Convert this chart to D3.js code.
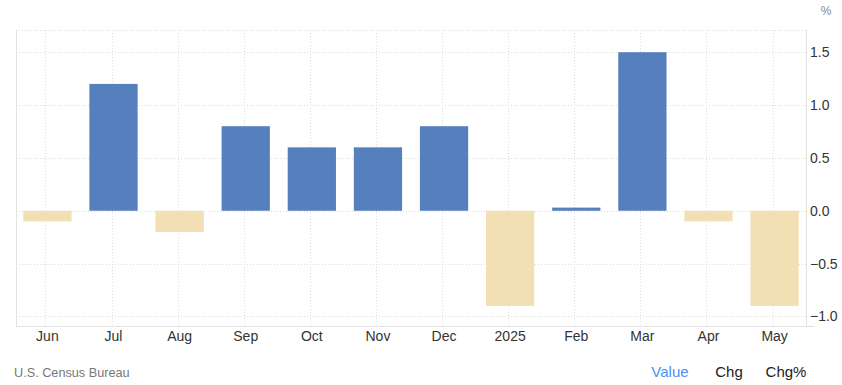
<!DOCTYPE html>
<html>
<head>
<meta charset="utf-8">
<script src="https://cdn.jsdelivr.net/npm/d3@7"></script>
<style>
  body { margin: 0; background: #fff; }
  svg text { font-family: Arial, "Liberation Sans", sans-serif; }
</style>
</head>
<body>
<div id="chart"></div>
<script>
// monthly % change
const months = ["Jun", "Jul", "Aug", "Sep", "Oct", "Nov", "Dec", "2025", "Feb", "Mar", "Apr", "May"];
const values = [-0.1, 1.2, -0.2, 0.8, 0.6, 0.6, 0.8, -0.9, 0.03, 1.5, -0.1, -0.9];
const yTicks = [-1.0, -0.5, 0.0, 0.5, 1.0, 1.5];
const tabs = ["Value", "Chg", "Chg%"];

const width = 842, height = 385;
const plotLeft = 16, plotRight = 806, plotTop = 30, plotBottom = 326;

const svg = d3.select("#chart").append("svg")
  .attr("width", width)
  .attr("height", height);

const x = d3.scaleBand().domain(months).range([plotLeft, plotRight])
  .paddingInner(0.27).paddingOuter(0.11);
const y = d3.scaleLinear().domain([-1.09, 1.71]).range([plotBottom, plotTop]);

// grid
svg.append("g").selectAll("line").data(yTicks.concat([1.71]))
  .enter().append("line")
  .attr("x1", plotLeft).attr("x2", plotRight)
  .attr("y1", d => Math.round(y(d)) + 0.5).attr("y2", d => Math.round(y(d)) + 0.5)
  .attr("stroke", "#dcdcdc").attr("stroke-dasharray", "1,2");

svg.append("g").selectAll("line").data(months)
  .enter().append("line")
  .attr("x1", d => Math.round(x(d) + x.bandwidth() / 2) - 1.5)
  .attr("x2", d => Math.round(x(d) + x.bandwidth() / 2) - 1.5)
  .attr("y1", plotTop).attr("y2", plotBottom)
  .attr("stroke", "#dcdcdc").attr("stroke-dasharray", "1,2");

// borders
svg.append("line").attr("x1", plotLeft + 0.5).attr("x2", plotLeft + 0.5).attr("y1", plotTop).attr("y2", plotBottom)
  .attr("stroke", "#e2e2e2");
svg.append("line").attr("x1", plotRight + 0.5).attr("x2", plotRight + 0.5).attr("y1", plotTop).attr("y2", plotBottom + 1)
  .attr("stroke", "#e2e2e2");
svg.append("line").attr("x1", plotLeft).attr("x2", plotRight + 8).attr("y1", plotBottom + 0.5).attr("y2", plotBottom + 0.5)
  .attr("stroke", "#e2e2e2");

// bars
svg.append("g").selectAll("rect").data(values)
  .enter().append("rect")
  .attr("x", (d, i) => x(months[i]))
  .attr("width", x.bandwidth())
  .attr("y", d => y(Math.max(0, d)))
  .attr("height", d => Math.abs(y(d) - y(0)))
  .attr("fill", d => d >= 0 ? "#5580bd" : "#f2dfb4");

// x axis
const xAxis = svg.append("g")
  .attr("transform", "translate(0," + plotBottom + ")")
  .call(d3.axisBottom(x).tickSize(0).tickPadding(5));
xAxis.select(".domain").remove();
xAxis.selectAll("text").attr("font-size", 14).attr("fill", "#333");

// y axis
const yAxis = svg.append("g")
  .attr("transform", "translate(" + plotRight + ",0)")
  .call(d3.axisRight(y).tickValues(yTicks).tickFormat(d3.format(".1f")).tickSize(0).tickPadding(4));
yAxis.select(".domain").remove();
yAxis.selectAll("text").attr("font-size", 14).attr("fill", "#333");

svg.append("text").attr("x", 826).attr("y", 15).attr("text-anchor", "middle")
  .attr("font-size", 12).attr("fill", "#888").text("%");

// footer
svg.append("text").attr("x", 14).attr("y", 377)
  .attr("font-size", 12.7).attr("fill", "#777").text("U.S. Census Bureau");

const tabX = [670, 729, 786];
svg.append("g").selectAll("text").data(tabs)
  .enter().append("text")
  .attr("x", (d, i) => tabX[i]).attr("y", 377)
  .attr("text-anchor", "middle")
  .attr("font-size", 15)
  .attr("fill", (d, i) => i === 0 ? "#4f8ff0" : "#222")
  .text(d => d);
</script>
</body>
</html>
